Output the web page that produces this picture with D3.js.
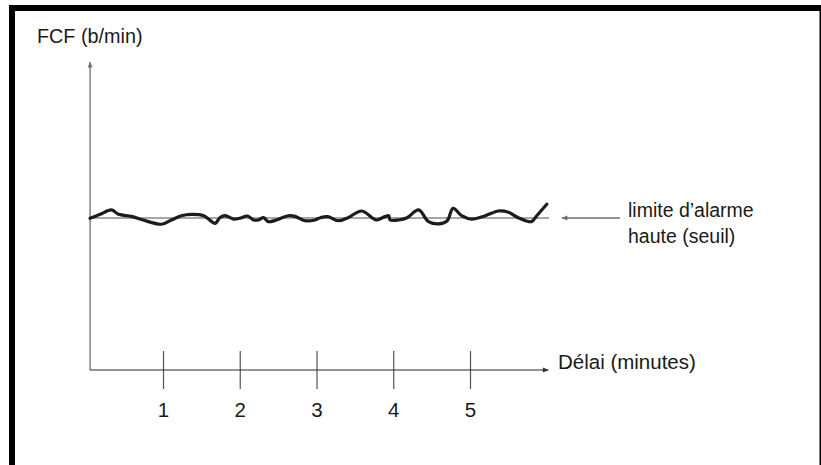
<!DOCTYPE html>
<html>
<head>
<meta charset="utf-8">
<script src="https://cdn.jsdelivr.net/npm/d3@7"></script>
<style>
  body { margin: 0; background: #fff; }
  svg { display: block; }
  text { font-family: "Liberation Sans", Arial, Helvetica, sans-serif; fill: #1a1a1a; }
</style>
</head>
<body>
<svg id="chart" width="821" height="465"></svg>
<script>
// Heart-rate trace (b/min) sampled along the delay axis (minutes)
const minutes = [0.05, 0.18, 0.33, 0.42, 0.59, 0.74, 0.98, 1.11, 1.24, 1.37, 1.53, 1.68, 1.74, 1.81,
  1.92, 2.00, 2.10, 2.18, 2.24, 2.31, 2.37, 2.48, 2.63, 2.72, 2.85, 2.98, 3.05, 3.15, 3.28, 3.41,
  3.59, 3.78, 3.89, 3.94, 3.96, 4.07, 4.18, 4.33, 4.46, 4.59, 4.70, 4.78, 4.89, 5.02, 5.20, 5.37,
  5.50, 5.63, 5.80, 5.87, 6.00];
const fcf = [99.8, 102.4, 105.3, 102.4, 101.1, 98.7, 95.9, 98.7, 101.5, 102.4, 101.5, 96.5, 100.2, 101.5,
  99.3, 99.8, 101.3, 98.7, 98.7, 100.2, 97.6, 98.7, 101.5, 101.1, 98.2, 98.7, 100.2, 100.9, 98.2, 100.2,
  104.6, 98.7, 100.9, 101.5, 98.7, 98.7, 100.2, 105.3, 97.6, 96.1, 98.0, 106.4, 101.5, 99.3, 101.5, 104.6,
  103.8, 100.2, 97.6, 101.5, 109.0];
const tickValues = [1, 2, 3, 4, 5];
const tickLabels = ["1", "2", "3", "4", "5"];
const alarmThreshold = 100;
const yLabel = "FCF (b/min)";
const xLabel = "Délai (minutes)";
const thresholdLabel = ["limite d\u2019alarme", "haute (seuil)"];

const svg = d3.select("#chart");

// Frame
svg.append("rect").attr("x", 9).attr("y", 5).attr("width", 812).attr("height", 6).attr("fill", "#000");
svg.append("rect").attr("x", 9).attr("y", 5).attr("width", 6).attr("height", 460).attr("fill", "#000");
svg.append("rect").attr("x", 819.5).attr("y", 5).attr("width", 1.5).attr("height", 460).attr("fill", "#000");

// Scales
const x = d3.scaleLinear().domain([1, 5]).range([163, 470]);
const y = d3.scaleLinear().domain([0, 200]).range([370, 66]);
const xMin = 0.05, xMax = 6.02, lineEnd = 6.03;

// Arrowhead markers
const defs = svg.append("defs");
function marker(id, color) {
  defs.append("marker")
    .attr("id", id)
    .attr("viewBox", "0 0 10 10")
    .attr("refX", 9).attr("refY", 5)
    .attr("markerUnits", "userSpaceOnUse")
    .attr("markerWidth", 7).attr("markerHeight", 6)
    .attr("orient", "auto")
    .append("path").attr("d", "M0,1 L10,5 L0,9 Z").attr("fill", color);
}
marker("arrowGray", "#707070");
marker("arrowDark", "#333");

// Y axis (no ticks)
svg.append("line")
  .attr("x1", x(xMin)).attr("x2", x(xMin))
  .attr("y1", y(0)).attr("y2", y(202.5))
  .attr("stroke", "#7a7a7a").attr("stroke-width", 1.4)
  .attr("marker-end", "url(#arrowGray)");

// X axis with ticks crossing the baseline
const xAxis = d3.axisBottom(x).tickValues(tickValues).tickFormat((d, i) => tickLabels[i]).tickSize(19);
const gx = svg.append("g").attr("transform", `translate(0,${y(0)})`).call(xAxis);
gx.select(".domain").remove();
gx.selectAll(".tick line").attr("y1", -19).attr("y2", 19).attr("stroke", "#555").attr("stroke-width", 1.2);
gx.selectAll(".tick text")
  .attr("y", 47).attr("dy", 0)
  .attr("font-size", 20.5).attr("font-family", "Liberation Sans, Arial, sans-serif")
  .attr("fill", "#1a1a1a");

svg.append("line")
  .attr("x1", x(xMin)).attr("x2", x(xMax))
  .attr("y1", y(0)).attr("y2", y(0))
  .attr("stroke", "#2a2a2a").attr("stroke-width", 1.2)
  .attr("marker-end", "url(#arrowDark)");

// Threshold line
svg.append("line")
  .attr("x1", x(xMin)).attr("x2", x(lineEnd))
  .attr("y1", y(alarmThreshold)).attr("y2", y(alarmThreshold))
  .attr("stroke", "#8a8a8a").attr("stroke-width", 1.7);

// Heart-rate trace
const pts = minutes.map((m, i) => [m, fcf[i]]);
svg.append("path")
  .datum(pts)
  .attr("fill", "none")
  .attr("stroke", "#1c1c1c")
  .attr("stroke-width", 3.2)
  .attr("stroke-linejoin", "round")
  .attr("stroke-linecap", "round")
  .attr("d", d3.line().x(d => x(d[0])).y(d => y(d[1])).curve(d3.curveCatmullRom.alpha(0.5)));

// Labels
svg.append("text").attr("x", 37).attr("y", 43).attr("font-size", 19.8).text(yLabel);
svg.append("text").attr("x", 558).attr("y", 369).attr("font-size", 20.5).text(xLabel);

// Pointer to threshold
svg.append("line")
  .attr("x1", 620).attr("x2", 562)
  .attr("y1", y(alarmThreshold)).attr("y2", y(alarmThreshold))
  .attr("stroke", "#707070").attr("stroke-width", 1.4)
  .attr("marker-end", "url(#arrowGray)");

const tl = svg.append("text").attr("x", 628).attr("y", 217).attr("font-size", 19.5);
thresholdLabel.forEach((t, i) => {
  tl.append("tspan").attr("x", 628).attr("dy", i === 0 ? 0 : 26).text(t);
});
</script>
</body>
</html>
